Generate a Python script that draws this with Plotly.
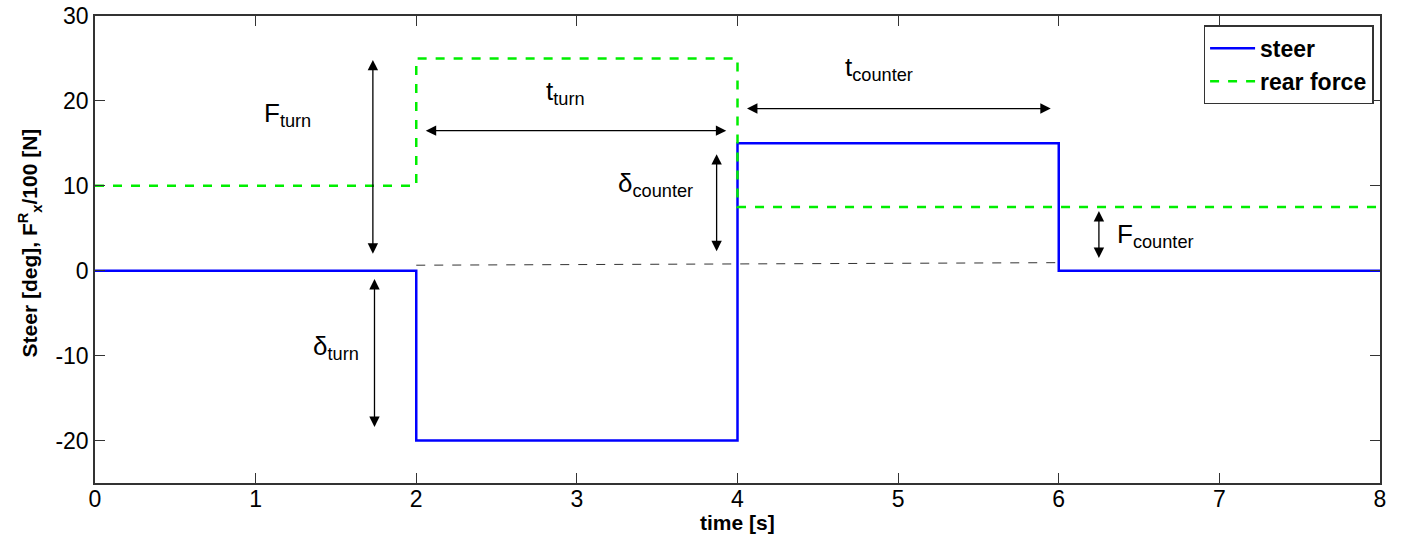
import plotly.graph_objects as go

# Data
time_steps = [0, 2, 4, 6, 8]
steer_deg = [0, -20, 15, 0, 0]
rear_force_time = [0, 2, 4, 8]
rear_force = [10, 25, 7.5, 7.5]
ref_x = [2, 6]
ref_y = [0.65, 0.95]
x_ticks = [0, 1, 2, 3, 4, 5, 6, 7, 8]
y_ticks = [-20, -10, 0, 10, 20, 30]
y_tick_text = ["-20", "-10", "0", "10", "20", "30"]
x_title = "<b>time [s]</b>"
y_title = "<b>Steer [deg], F<sup>R</sup><sub>x</sub>/100 [N]</b>"

# Double-headed arrows: (x0, y0, x1, y1)
arrows = [
    (1.73, 25.0, 1.73, 2.0),     # F_turn
    (1.74, -0.8, 1.74, -18.4),   # delta_turn
    (2.05, 16.5, 3.93, 16.5),    # t_turn
    (4.05, 19.1, 5.95, 19.1),    # t_counter
    (3.87, 13.9, 3.87, 2.3),     # delta_counter
    (6.25, 7.2, 6.25, 1.5),      # F_counter
]
labels = [
    (1.2, 18.4, "F<sub>turn</sub>"),
    (1.5, -9.0, "δ<sub>turn</sub>"),
    (2.93, 21.0, "t<sub>turn</sub>"),
    (4.88, 23.8, "t<sub>counter</sub>"),
    (3.49, 10.2, "δ<sub>counter</sub>"),
    (6.6, 4.2, "F<sub>counter</sub>"),
]

FONT = "Arial, Liberation Sans, sans-serif"

fig = go.Figure()
fig.add_trace(go.Scatter(x=time_steps, y=steer_deg, mode="lines", line_shape="hv",
                         name="steer", line=dict(color="#0000ff", width=2.5)))
fig.add_trace(go.Scatter(x=rear_force_time, y=rear_force, mode="lines", line_shape="hv",
                         name="rear force", line=dict(color="#00ee00", width=2.5, dash="dash")))
fig.add_trace(go.Scatter(x=ref_x, y=ref_y, mode="lines", showlegend=False,
                         line=dict(color="#333333", width=1, dash="dash"), hoverinfo="skip"))

for x0, y0, x1, y1 in arrows:
    fig.add_annotation(x=x1, y=y1, ax=x0, ay=y0, xref="x", yref="y", axref="x", ayref="y",
                       text="", showarrow=True, arrowhead=2, arrowside="end+start",
                       arrowsize=1.6, arrowwidth=1.3, arrowcolor="black")
for x, y, t in labels:
    fig.add_annotation(x=x, y=y, xref="x", yref="y", text=t, showarrow=False,
                       font=dict(family=FONT, size=26, color="black"))

# axis titles placed as annotations for precise positioning
fig.add_annotation(x=0.5, y=-0.085, xref="paper", yref="paper", text=x_title, showarrow=False,
                   xanchor="center", yanchor="middle",
                   font=dict(family=FONT, size=21, color="black"))
fig.add_annotation(x=-0.0506, y=0.515, xref="paper", yref="paper", text=y_title, showarrow=False,
                   textangle=-90, xanchor="center", yanchor="middle",
                   font=dict(family=FONT, size=21, color="black"))

axis_common = dict(showline=True, linecolor="#333333", linewidth=1.5, mirror="ticks",
                   ticks="inside", ticklen=10, tickcolor="#333333", showgrid=False,
                   zeroline=False, automargin=False, ticklabeloverflow="allow",
                   tickfont=dict(family=FONT, size=23, color="black"))
fig.update_xaxes(range=[0, 8], tickvals=x_ticks, ticklabelstandoff=-5, **axis_common)
fig.update_yaxes(range=[-25, 30], tickvals=y_ticks, ticktext=y_tick_text, **axis_common)
fig.update_layout(
    width=1405, height=543, plot_bgcolor="white", paper_bgcolor="white",
    margin=dict(l=95, r=25, t=16, b=60),
    legend=dict(x=0.995, y=0.98, xanchor="right", yanchor="top", bgcolor="white",
                bordercolor="#333333", borderwidth=1.5, itemwidth=45,
                font=dict(family=FONT, size=23, color="black", weight="bold"),
                tracegroupgap=0),
    showlegend=True,
)
fig.write_html("out.html", config={"displayModeBar": False},
               post_script="document.body.style.margin='0';document.body.style.overflow='hidden';")
